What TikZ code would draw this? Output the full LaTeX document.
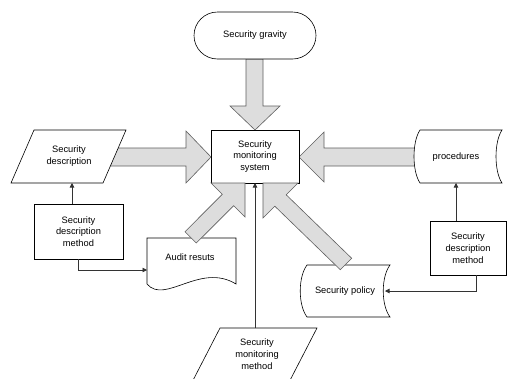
\documentclass[tikz,border=0pt]{standalone}
\usepackage{fontspec}
\setmainfont{Liberation Sans}
\usetikzlibrary{arrows.meta,shapes.misc}
\definecolor{fatfill}{HTML}{DDDDDD}
\definecolor{fatline}{HTML}{5E5E5E}
\definecolor{connline}{HTML}{333333}
\tikzset{
  x=1pt, y=-1pt,
  lbl/.style={font=\fontsize{9.3}{11.8}\selectfont, align=center, inner sep=0pt},
  shapeline/.style={draw=black, line width=0.6pt, fill=white},
  rbox/.style={shapeline, rectangle, inner sep=0pt, outer sep=0pt, font=\fontsize{9.3}{11.8}\selectfont, align=center},
  fat/.style={draw=fatline, fill=fatfill, line width=0.6pt, line join=miter},
  conn/.style={draw=connline, line width=0.6pt, -{Triangle[length=4.5pt,width=4.5pt]}},
}
\begin{document}
\begin{tikzpicture}
\useasboundingbox (0,0) rectangle (508,378);
\clip (0,0) rectangle (508,378);

% ---- big arrows (drawn first) ----
% top
\draw[fat] (246,59) -- (263,59) -- (263,106) -- (280,106) -- (255,130) -- (230,106) -- (246,106) -- cycle;
% left
\draw[fat] (100,148) -- (186,148) -- (186,131) -- (211,157) -- (186,183) -- (186,166) -- (100,166) -- cycle;
% right
\draw[fat] (430,148) -- (324,148) -- (324,132) -- (299,157) -- (324,182) -- (324,166) -- (430,166) -- cycle;

% ---- shapes ----
\node[shapeline, rounded rectangle, minimum width=122, minimum height=47, inner sep=0pt, outer sep=0pt] (sg) at (255,35.5) {};
\node[lbl] at (sg.center) {Security gravity};

\node[rbox, minimum width=88, minimum height=53] (sys) at (255,156.5) {Security\\monitoring\\system};

% Security description parallelogram
\draw[shapeline] (34,130) -- (126,130) -- (103,183) -- (11,183) -- cycle;
\node[lbl] (sd) at (69,156) {Security\\description};
\coordinate (sd-b) at (72,183);

% procedures (stored data)
\draw[shapeline] (420,130) -- (502,130) .. controls (494,142) and (494,171) .. (502,183) -- (420,183) .. controls (412,171) and (412,142) .. (420,130) -- cycle;
\node[lbl] (proc) at (456,157) {procedures};
\coordinate (proc-b) at (456,183);

% left method box
\node[rbox, minimum width=89, minimum height=55] (sdm) at (78.5,231.5) {Security\\description\\method};

% right method box
\node[rbox, minimum width=76, minimum height=54] (sdm2) at (468,248) {Security\\description\\method};

% Audit results (document)
\draw[shapeline] (147,238) -- (236,238) -- (236,284) .. controls (200,262) and (165,305) .. (147,284) -- cycle;
\node[lbl] (ar) at (190,257) {Audit resuts};
\coordinate (ar-w) at (147,270);

% Security policy (stored data)
\draw[shapeline] (307,265) -- (390,265) .. controls (381,277) and (381,305) .. (390,317) -- (307,317) .. controls (298,305) and (298,277) .. (307,265) -- cycle;
\node[lbl] (sp) at (345,291) {Security policy};
\coordinate (sp-e) at (385,291);

% Security monitoring method (parallelogram, cut by page)
\draw[shapeline] (220,328) -- (317,328) -- (285,390) -- (188,390) -- cycle;
\node[lbl] (smm) at (257,354) {Security\\monitoring\\method};
\coordinate (smm-n) at (255,328);

% ---- diagonal big arrows (on top of documents) ----
% left: tip (245,183)
\draw[fat] (245,183) -- (245,217) -- (233.7,205.7) -- (196.3,243) -- (185,231.7) -- (222.3,194.3) -- (211,183) -- cycle;
% right: tip (263,183)
\draw[fat] (263,183) -- (298,183) -- (286.2,194.8) -- (351.7,258.3) -- (340.3,269.7) -- (274.8,206.2) -- (263,218) -- cycle;

% ---- connectors ----
\draw[conn] (sdm.north -| sd-b) -- (sd-b);
\draw[conn] ([xshift=-0.5pt]sdm.south) |- (ar-w);
\draw[conn] (sdm2.north -| proc-b) -- (proc-b);
\draw[conn] ([xshift=8pt]sdm2.south) |- (sp-e);
\draw[conn] (smm-n) -- (sys.south);
\end{tikzpicture}
\end{document}
